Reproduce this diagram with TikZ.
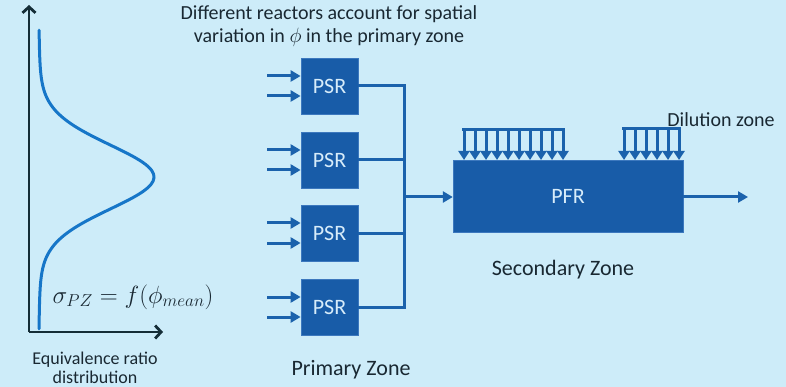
\documentclass[tikz,border=0pt]{standalone}
\usepackage{fontspec}
\setmainfont{Carlito}
\usetikzlibrary{positioning, arrows.meta, calc}

\begin{document}
\begin{tikzpicture}[
    x=1pt, y=-1pt,
    % --- Styles ---
    reactor/.style={draw=boxEdge, line width=0.8pt, fill=boxBlue, text=boxText, minimum width=57pt, minimum height=56pt, inner sep=0pt, font=\fontsize{22}{24}\selectfont},
    flow/.style={-{Triangle[length=10pt, width=11pt]}, line width=3pt, color=flowBlue},
    pipe/.style={line width=3pt, color=flowBlue},
    dil/.style={-{Triangle[length=9pt, width=11pt]}, line width=3pt, color=flowBlue},
    axis/.style={-{Straight Barb[length=6pt, width=13pt, line width=2.8pt]}, line width=2.8pt, color=axisDark},
    label_text/.style={align=center, text=textDark, font=\fontsize{20}{23}\selectfont}
]

    % --- Colors ---
    \definecolor{bgBlue}{RGB}{205,236,249}
    \definecolor{boxBlue}{RGB}{24,92,168}
    \definecolor{boxEdge}{RGB}{60,120,190}
    \definecolor{boxText}{RGB}{215,236,250}
    \definecolor{flowBlue}{RGB}{27,98,172}
    \definecolor{curveBlue}{RGB}{22,118,200}
    \definecolor{axisDark}{RGB}{20,45,55}
    \definecolor{textDark}{RGB}{25,40,50}

    \fill[bgBlue] (0,0) rectangle (786,387);
    \useasboundingbox (0,0) rectangle (786,387);

    % ==========================
    % 1. DISTRIBUTION PLOT
    % ==========================
    \coordinate (origin) at (29,332);
    \coordinate (ytop) at (29,5);
    \coordinate (xend) at (163,332);
    \draw[axis] (origin) -- (ytop);
    \draw[axis] (origin) -- (xend);

    \draw[curveBlue, line width=3pt, line cap=round, smooth, samples=90, domain=-4.45:4.6]
        plot ({38+100*exp(-\x*\x/2)+16/(1+0.68*\x*\x)}, {177+33*\x});

    \node[font=\fontsize{24}{26}\selectfont, text=textDark] (formula) at (133,297) {$\sigma_{PZ}=f(\phi_{mean})$};
    \node[label_text, font=\fontsize{18}{19}\selectfont] (distlbl) at (95,368) {Equivalence ratio\\distribution};

    % ==========================
    % 2. PRIMARY ZONE: PSR
    % ==========================
    \node[label_text] (toplbl) at (329,26) {Different reactors account for spatial\\variation in $\phi$ in the primary zone};

    \foreach \i/\y in {1/86, 2/160, 3/233, 4/307} {
        \node[reactor] (psr\i) at (329.5,\y) {PSR};
        \coordinate (ina\i) at (267,\y-10);
        \coordinate (inb\i) at (267,\y+10);
        \draw[flow] (ina\i) -- (ina\i -| psr\i.west);
        \draw[flow] (inb\i) -- (inb\i -| psr\i.west);
    }

    % Collector bus
    \coordinate (bustop) at (404,86);
    \coordinate (busbot) at (404,307);
    \coordinate (busout) at (404,197);
    \foreach \i in {1,...,4} {
        \draw[pipe] (psr\i.east) -- (psr\i.east -| bustop);
    }
    \draw[pipe, line cap=rect] (bustop) -- (busbot);

    \node[label_text, font=\fontsize{22}{24}\selectfont] (pzlbl) at (351,370) {Primary Zone};

    % ==========================
    % 3. SECONDARY ZONE: PFR
    % ==========================
    \node[draw=boxEdge, fill=boxBlue, text=boxText, minimum width=230pt, minimum height=72pt, inner sep=0pt, font=\fontsize{22}{24}\selectfont] (pfr) at (568,196) {PFR};
    \draw[flow] (busout) -- (busout -| pfr.west);

    \coordinate (outend) at (748,197);
    \draw[flow] (pfr.east |- outend) -- (outend);

    % Dilution air
    \draw[pipe] (462,130) -- (565,130);
    \foreach \x in {464,475,...,563} {
        \draw[dil] (\x,130) -- (\x,160);
    }
    \draw[pipe] (622,129) -- (681,129);
    \foreach \x in {624,635,...,679} {
        \draw[dil] (\x,129) -- (\x,160);
    }

    \node[label_text] (dillbl) at (721,120) {Dilution zone};
    \node[label_text, font=\fontsize{22}{24}\selectfont] (szlbl) at (563,270) {Secondary Zone};

\end{tikzpicture}
\end{document}
